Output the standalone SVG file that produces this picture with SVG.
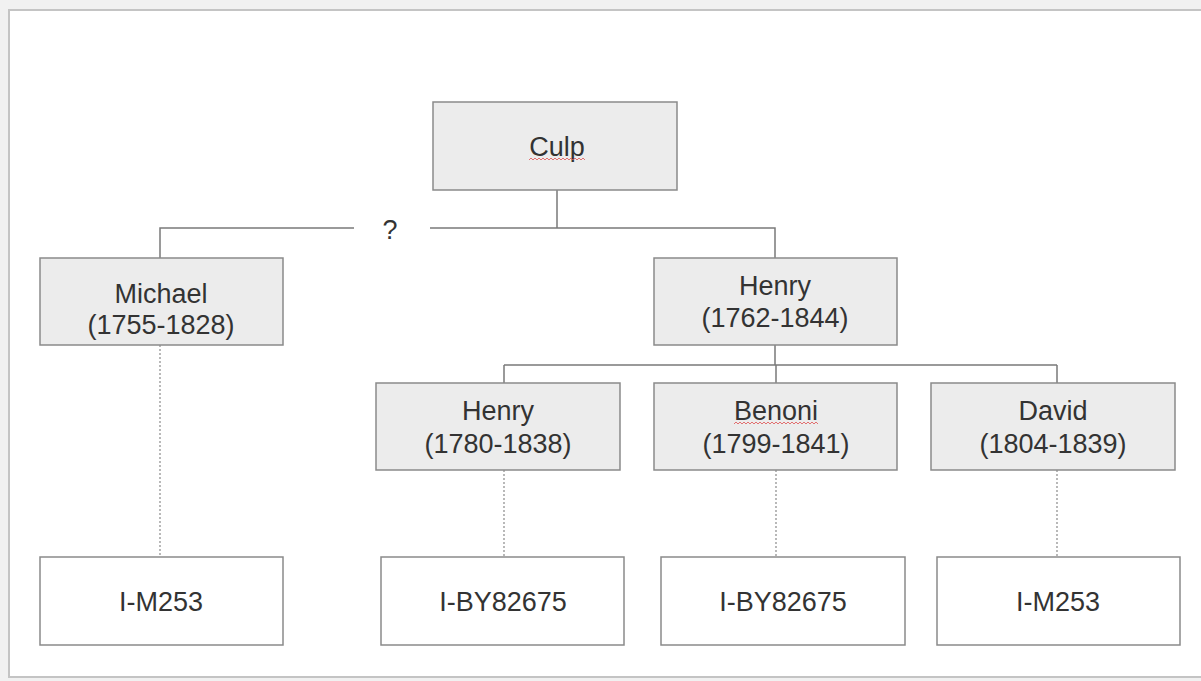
<svg xmlns="http://www.w3.org/2000/svg" width="1201" height="681" viewBox="0 0 1201 681">
<style>
.bg{fill:#f1f1f1}
.page{fill:#ffffff;stroke:#c4c4c4;stroke-width:2}
.box{fill:#ececec;stroke:#8a8a8a;stroke-width:1.5}
.wbox{fill:#ffffff;stroke:#8a8a8a;stroke-width:1.5}
.t{font-family:"Liberation Sans",Arial,sans-serif;font-size:27px;fill:#333333;text-anchor:middle}
.ln{fill:none;stroke:#7a7a7a;stroke-width:1.5}
.dot{fill:none;stroke:#8a8a8a;stroke-width:1.2;stroke-dasharray:2 2}
.sp{fill:none;stroke:#e05050;stroke-width:0.8}
</style>
<rect class="bg" x="0" y="0" width="1201" height="681"/>
<rect class="page" x="9" y="10" width="1200" height="667"/>
<g id="connectors">
<path class="ln" d="M557 190 V228 M557 228 H775 V258 M430 228 H557 M354 228 H160 V258"/>
<path class="ln" d="M775 345 V365 M504 365 H1057 M504 365 V383 M776 365 V383 M1057 365 V383"/>
<path class="dot" d="M160 345 V557 M504 470 V557 M776 470 V557 M1057 470 V557"/>
<text class="t" x="390" y="239">?</text>
</g>
<g id="culp">
<rect class="box" x="433" y="102" width="244" height="88"/>
<text class="t" x="557" y="156">Culp</text>
<path class="sp" d="M529 160 l2 -2 l2 2 l2 -2 l2 2 l2 -2 l2 2 l2 -2 l2 2 l2 -2 l2 2 l2 -2 l2 2 l2 -2 l2 2 l2 -2 l2 2 l2 -2 l2 2 l2 -2 l2 2 l2 -2 l2 2 l2 -2 l2 2 l2 -2 l2 2 l2 -2 l2 2"/>
</g>
<g id="michael">
<rect class="box" x="40" y="258" width="243" height="87"/>
<text class="t" x="161" y="303">Michael</text>
<text class="t" x="161" y="334">(1755-1828)</text>
</g>
<g id="henry1762">
<rect class="box" x="654" y="258" width="243" height="87"/>
<text class="t" x="775" y="295">Henry</text>
<text class="t" x="775" y="327">(1762-1844)</text>
</g>
<g id="henry1780">
<rect class="box" x="376" y="383" width="244" height="87"/>
<text class="t" x="498" y="420">Henry</text>
<text class="t" x="498" y="453">(1780-1838)</text>
</g>
<g id="benoni">
<rect class="box" x="654" y="383" width="243" height="87"/>
<text class="t" x="776" y="420">Benoni</text>
<path class="sp" d="M734 424 l2 -2 l2 2 l2 -2 l2 2 l2 -2 l2 2 l2 -2 l2 2 l2 -2 l2 2 l2 -2 l2 2 l2 -2 l2 2 l2 -2 l2 2 l2 -2 l2 2 l2 -2 l2 2 l2 -2 l2 2 l2 -2 l2 2 l2 -2 l2 2 l2 -2 l2 2 l2 -2 l2 2 l2 -2 l2 2 l2 -2 l2 2 l2 -2 l2 2 l2 -2 l2 2 l2 -2 l2 2 l2 -2 l2 2"/>
<text class="t" x="776" y="453">(1799-1841)</text>
</g>
<g id="david">
<rect class="box" x="931" y="383" width="244" height="87"/>
<text class="t" x="1053" y="420">David</text>
<text class="t" x="1053" y="453">(1804-1839)</text>
</g>
<g id="hap1">
<rect class="wbox" x="40" y="557" width="243" height="88"/>
<text class="t" x="161" y="611">I-M253</text>
</g>
<g id="hap2">
<rect class="wbox" x="381" y="557" width="243" height="88"/>
<text class="t" x="503" y="611">I-BY82675</text>
</g>
<g id="hap3">
<rect class="wbox" x="661" y="557" width="244" height="88"/>
<text class="t" x="783" y="611">I-BY82675</text>
</g>
<g id="hap4">
<rect class="wbox" x="937" y="557" width="243" height="88"/>
<text class="t" x="1058" y="611">I-M253</text>
</g>
</svg>
